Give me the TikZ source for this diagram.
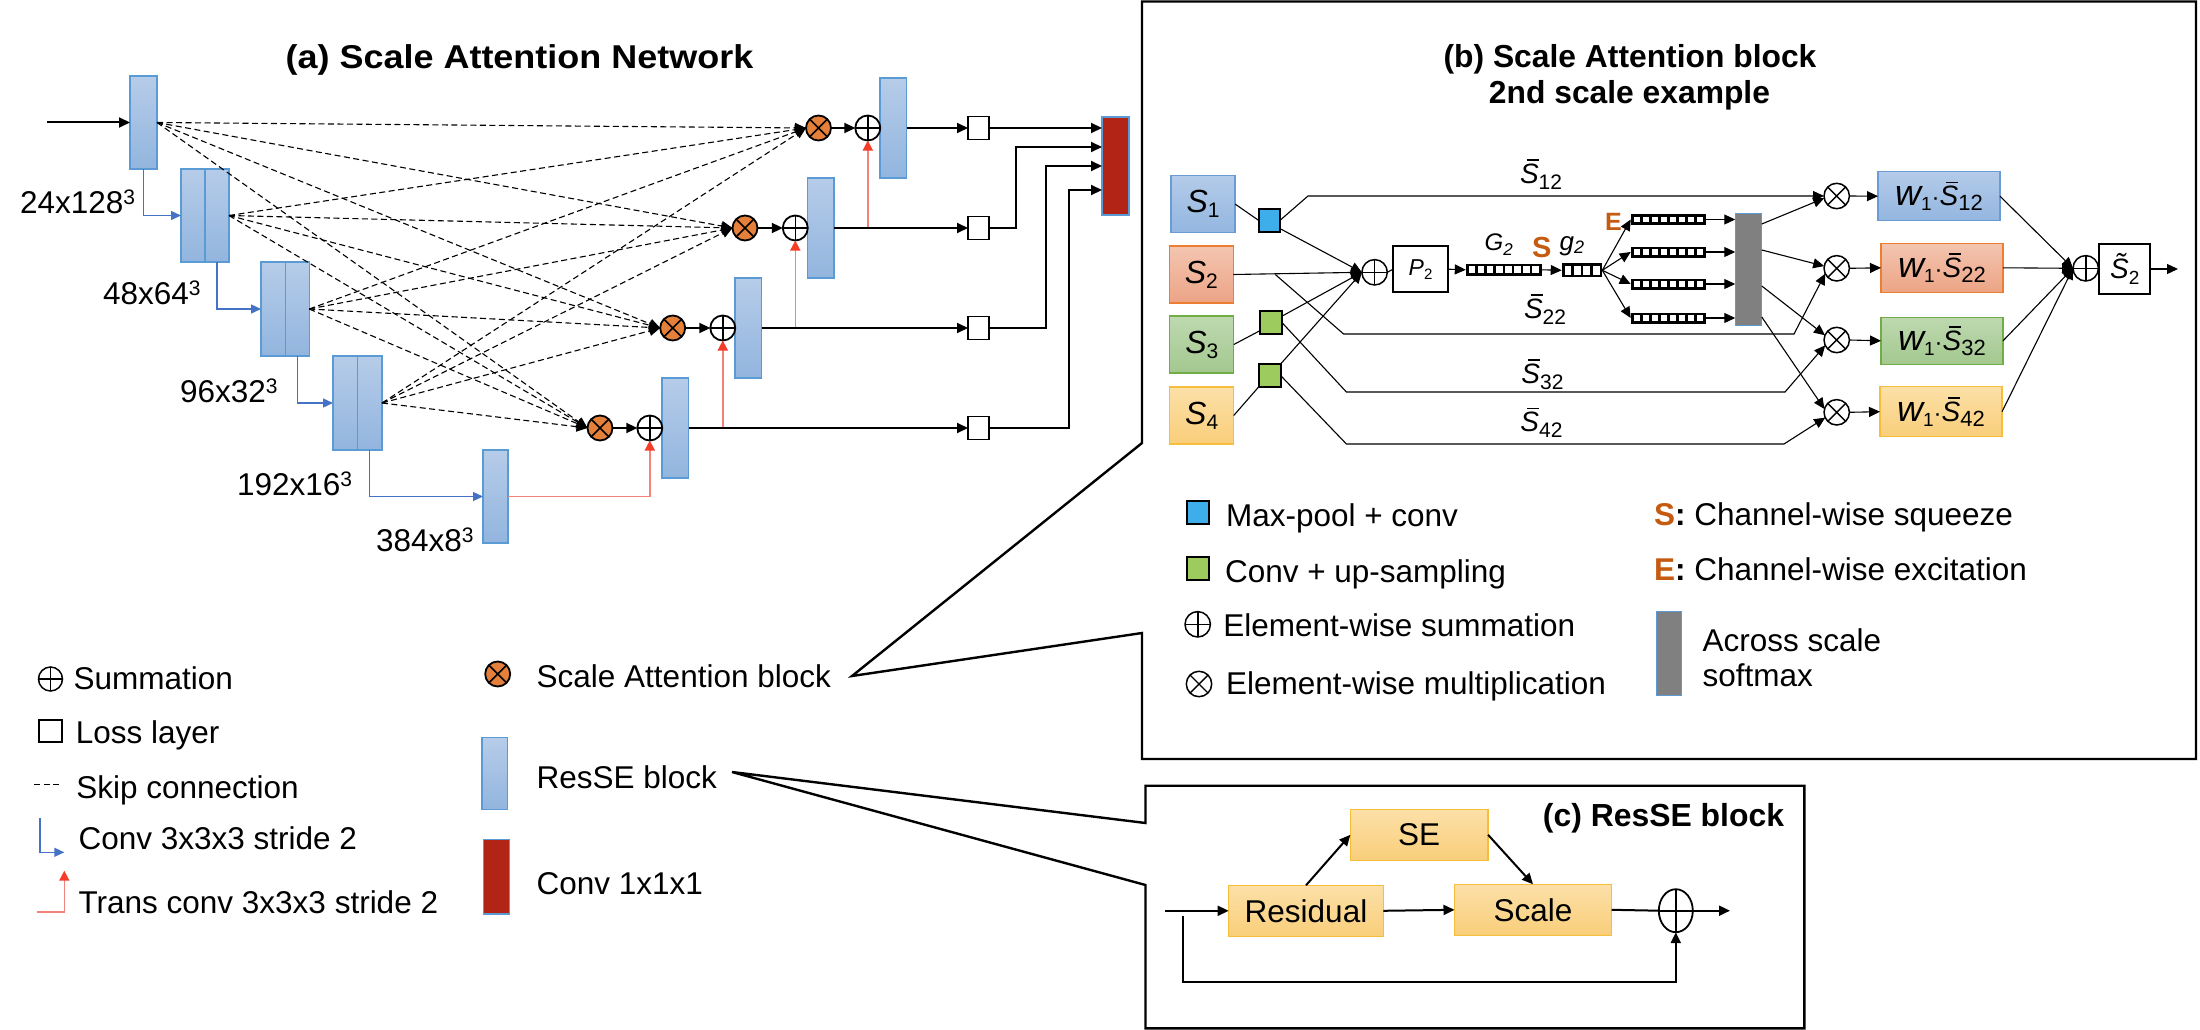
\documentclass[tikz,border=0pt]{standalone}
\usepackage{fontspec}
\setmainfont{Liberation Sans}
\usetikzlibrary{arrows.meta,calc,shapes.geometric}
\definecolor{bxtop}{RGB}{182,204,233}
\definecolor{bxbot}{RGB}{146,181,222}
\definecolor{bxline}{RGB}{91,155,213}
\definecolor{attor}{RGB}{229,128,58}
\definecolor{convred}{RGB}{178,36,22}
\definecolor{convblue}{RGB}{68,114,196}
\definecolor{transred}{RGB}{243,130,120}
\definecolor{tipred}{RGB}{245,60,40}
\definecolor{sqblue}{RGB}{61,174,233}
\definecolor{sqgreen}{RGB}{157,203,94}
\definecolor{sorange}{RGB}{197,90,17}
\definecolor{smgray}{RGB}{128,128,128}
\definecolor{s1top}{RGB}{180,203,233}\definecolor{s1bot}{RGB}{147,182,224}\definecolor{s1line}{RGB}{106,155,211}
\definecolor{s2top}{RGB}{243,197,176}\definecolor{s2bot}{RGB}{236,164,133}\definecolor{s2line}{RGB}{237,125,49}
\definecolor{s3top}{RGB}{190,217,176}\definecolor{s3bot}{RGB}{163,200,143}\definecolor{s3line}{RGB}{112,173,71}
\definecolor{s4top}{RGB}{252,224,168}\definecolor{s4bot}{RGB}{249,206,122}\definecolor{s4line}{RGB}{247,190,60}

\newcommand\cub{\raisebox{9pt}{\fontsize{21}{21}\selectfont 3}}
\newcommand\Sb{\makebox[0pt][l]{\kern0.24em\raisebox{0.8em}{\rule{0.42em}{0.06em}}}\textit{S}}
\newcommand\St{\makebox[0pt][l]{\kern0.2em\raisebox{0.2em}{\textit{\char"02DC}}}\textit{S}}
\newcommand\Si[1]{{\fontsize{32}{32}\selectfont\itshape S}\raisebox{-5pt}{\fontsize{21}{21}\selectfont #1}}
\newcommand\wS[1]{{\fontsize{36}{36}\selectfont\itshape w}\raisebox{-5pt}{\fontsize{19}{19}\selectfont 1}{\fontsize{24}{24}\selectfont ·}{\fontsize{28}{28}\selectfont\Sb}\raisebox{-5pt}{\fontsize{22}{22}\selectfont #1}}
\newcommand\Sbl[1]{{\fontsize{28}{28}\selectfont\Sb}\raisebox{-6pt}{\fontsize{21}{21}\selectfont #1}}
\newcommand\cellbar[6]{%
  \node[fill=black, minimum width=#4pt, minimum height=#5pt] (#1) at (#2,#3) {};
  \pgfmathsetmacro\cbw{(#4-3)/#6}
  \foreach \k in {1,...,#6}{
    \fill[white] ($(#1.north west)+({1.5+(\k-1)*\cbw+1.3},2.6)$) rectangle ++({\cbw-2.6},{#5-5.2});
  }
}

\tikzset{
  resse/.style={draw=bxline, line width=1.3pt, top color=bxtop, bottom color=bxbot, minimum width=26.5pt, minimum height=93pt},
  cvbox/.style={draw=bxline, line width=1.2pt, fill=convred},
  attn/.style={circle, draw, line width=1.8pt, fill=attor, minimum size=25pt,
    path picture={\draw[line width=1.6pt] (path picture bounding box.north west) -- (path picture bounding box.south east) (path picture bounding box.north east) -- (path picture bounding box.south west);}},
  oplusa/.style={circle, draw, line width=1.8pt, fill=white, minimum size=25pt,
    path picture={\draw[line width=1.6pt] (path picture bounding box.north) -- (path picture bounding box.south) (path picture bounding box.west) -- (path picture bounding box.east);}},
  oplusb/.style={oplusa, line width=1.5pt, minimum size=25.4pt},
  otimesb/.style={circle, draw, line width=1.5pt, fill=white, minimum size=25.4pt,
    path picture={\draw[line width=1.4pt] (path picture bounding box.north west) -- (path picture bounding box.south east) (path picture bounding box.north east) -- (path picture bounding box.south west);}},
  oplusc/.style={ellipse, draw, line width=1.8pt, fill=white, minimum width=34pt, minimum height=43pt,
    path picture={\draw[line width=1.6pt] (path picture bounding box.north) -- (path picture bounding box.south) (path picture bounding box.west) -- (path picture bounding box.east);}},
  lossq/.style={draw, line width=1.8pt, fill=white, minimum width=21pt, minimum height=23pt},
  sqb/.style={draw, line width=2pt, fill=sqblue, minimum width=21pt, minimum height=23pt},
  sqg/.style={draw, line width=2pt, fill=sqgreen, minimum width=22pt, minimum height=23pt},
  smx/.style={draw=bxline, line width=1pt, fill=smgray},
  sbox/.style={line width=1.3pt, minimum width=64pt, minimum height=57pt},
  wbox/.style={line width=1.3pt, minimum width=122pt, minimum height=49pt},
  obox/.style={draw=s4line, line width=1.3pt, top color=s4top, bottom color=s4bot, minimum width=137.7pt, minimum height=51pt},
  lab/.style={anchor=west, text height=22.5pt, text depth=0pt},
  blk/.style={line width=2pt, ->},
  skipd/.style={line width=1.1pt, dash pattern=on 6pt off 3.5pt, ->},
  convb/.style={draw=convblue, line width=1.4pt, -{Triangle[length=10pt,width=9pt,color=convblue]}},
  transr/.style={draw=transred, line width=1.6pt, -{Triangle[length=10pt,width=10pt,color=tipred]}},
  tl/.style={line width=1.1pt},
  ta/.style={line width=1.1pt, ->},
  frame/.style={line width=2.4pt, line join=miter},
}

\begin{document}
\begin{tikzpicture}[x=1pt,y=-1pt, >={Triangle[length=11pt,width=10pt]},
  every node/.style={inner sep=0pt, outer sep=0pt, font=\fontsize{31.5}{36}\selectfont}]
\fill[white] (0,0) rectangle (2200,1030);
\useasboundingbox (0,0) rectangle (2200,1030);

% ---------------- (a) Scale Attention Network ----------------
\node[font=\fontsize{33}{33}\selectfont\bfseries, text height=23.6pt, text depth=0pt] (ta) at (519.5,56.3) {\scalebox{1.09}[1]{(a) Scale Attention Network}};

\node[resse, minimum width=27pt] (e1) at (143.5,122.5) {};
\node[resse, minimum width=24pt] (e2a) at (193,215.5) {};
\node[resse, minimum width=24pt] (e2) at (217,215.5) {};
\node[resse, minimum width=24.5pt, minimum height=94pt] (e3a) at (273.25,309) {};
\node[resse, minimum width=24pt, minimum height=94pt] (e3) at (297.25,309) {};
\node[resse, minimum width=24.5pt, minimum height=94pt] (e4a) at (345.25,403) {};
\node[resse, minimum width=24.5pt, minimum height=94pt] (e4) at (369.75,403) {};
\node[resse, minimum width=25pt] (e5) at (495.5,496.5) {};

\node[resse, minimum height=100pt] (d1) at (893.3,128) {};
\node[resse, minimum height=100pt] (d2) at (820.8,228) {};
\node[resse, minimum height=100pt] (d3) at (748.3,328) {};
\node[resse, minimum height=100pt] (d4) at (675.3,428) {};

\node[oplusa] (o1) at (867.8,128) {};
\node[oplusa] (o2) at (795.3,228) {};
\node[oplusa] (o3) at (722.8,328) {};
\node[oplusa] (o4) at (649.8,428) {};

\node[attn] (a1) at (818.5,128) {};
\node[attn] (a2) at (745,228) {};
\node[attn] (a3) at (672.7,328) {};
\node[attn] (a4) at (600,428) {};

\node[lossq] (L1) at (978.5,128) {};
\node[lossq] (L2) at (978.5,228) {};
\node[lossq] (L3) at (978.5,328) {};
\node[lossq] (L4) at (978.5,428) {};

\node[cvbox, minimum width=27pt, minimum height=98pt] (cv) at (1115.5,166) {};

\node[lab] (t1) at (20,202) {24x128\cub};
\node[lab] (t2) at (103,293.7) {48x64\cub};
\node[lab] (t3) at (180,391) {96x32\cub};
\node[lab] (t4) at (237,484.7) {192x16\cub};
\node[lab] (t5) at (376,540.3) {384x8\cub};

\coordinate (ain) at (47,122.5);
\draw[blk] (ain) -- (e1.west);

\foreach \e in {e1,e2,e3,e4}
  \foreach \a in {a1,a2,a3,a4}
    \draw[skipd] (\e.east) -- (\a.west);

\draw[convb] (e1.south) |- (e2a.west);
\draw[convb] (e2.south) |- (e3a.west);
\draw[convb] (e3.south) |- (e4a.west);
\draw[convb] (e4.south) |- (e5.west);

\foreach \i in {1,...,4} \draw[blk] (a\i.east) -- (o\i.west);

\draw[transr] (e5.east) -| (o4.south);
\draw[transr] (d4.east) -| (o3.south);
\draw[transr] (d3.east) -| (o2.south);
\draw[transr] (d2.east) -| (o1.south);

\foreach \i in {1,...,4} \draw[blk] (d\i.east) -- (L\i.west);

\draw[blk] (L1.east) -- ($(cv.west)+(0,-38)$);
\draw[blk] (L2.east) -- ++(26.5,0) |- ($(cv.west)+(0,-19)$);
\draw[blk] (L3.east) -- ++(56.5,0) |- (cv.west);
\draw[blk] (L4.east) -- ++(80,0) |- ($(cv.west)+(0,24)$);

% legend (a)
\node[oplusa, minimum size=24pt, line width=1.5pt] (lgsum) at (50.5,679) {};
\node[lab] (lgsumt) at (73.5,678.5) {Summation};
\node[lossq, minimum width=23pt, minimum height=22pt, line width=1.6pt] (lgloss) at (50.5,731) {};
\node[lab] (lglosst) at (75.8,732) {Loss layer};
\draw[line width=1.1pt, dash pattern=on 6pt off 3.5pt] (34.4,784.3) -- (59,784.3);
\node[lab] (lgskipt) at (76.4,787) {Skip connection};
\draw[convb] (40,818) |- (64.3,852.3);
\node[lab] (lgconvt) at (78.6,838.7) {Conv 3x3x3 stride 2};
\draw[transr] (37.3,911.7) -| (64.3,870.7);
\node[lab] (lgtranst) at (78.6,902) {Trans conv 3x3x3 stride 2};
\node[attn] (lgattn) at (497.7,674) {};
\node[lab] (lgattnt) at (536.7,676) {Scale Attention block};
\node[resse, minimum width=25.5pt, minimum height=72pt] (lgres) at (494.8,773.3) {};
\node[lab] (lgrest) at (536.7,777.5) {ResSE block};
\node[cvbox, minimum width=26.4pt, minimum height=74.7pt] (lgcv) at (496.6,876.7) {};
\node[lab] (lgcvt) at (536.7,883) {Conv 1x1x1};

% ---------------- frames with callouts ----------------
\draw[frame] (1142,443) -- (1142,1.5) -- (2196,1.5) -- (2196,759) -- (1142,759) -- (1142,633) -- (852,676) -- cycle;
\draw[frame] (1145.5,823) -- (1145.5,785.7) -- (1804.4,785.7) -- (1804.4,1028.3) -- (1145.5,1028.3) -- (1145.5,885) -- (732,772) -- cycle;

% ---------------- (b) Scale Attention block ----------------
\node[font=\fontsize{31.8}{32}\selectfont\bfseries, text height=22.8pt, text depth=0pt] (tb1) at (1630,55.8) {(b) Scale Attention block};
\node[font=\fontsize{31.8}{32}\selectfont\bfseries, text height=22.8pt, text depth=0pt] (tb2) at (1629.5,92.5) {2nd scale example};

\node[sbox, draw=s1line, top color=s1top, bottom color=s1bot] (S1) at (1203,204) {\Si{1}};
\node[sbox, draw=s2line, top color=s2top, bottom color=s2bot] (S2) at (1201.3,274.5) {\Si{2}};
\node[sbox, draw=s3line, top color=s3top, bottom color=s3bot] (S3) at (1201.8,344.5) {\Si{3}};
\node[sbox, draw=s4line, top color=s4top, bottom color=s4bot] (S4) at (1201.7,415.5) {\Si{4}};

\node[sqb] (bsq) at (1269.3,220.5) {};
\node[sqg] (gsq3) at (1270.7,322.3) {};
\node[sqg] (gsq4) at (1269.6,375.5) {};

\node[oplusb] (opb) at (1374.6,272.3) {};
\node[draw, line width=1.8pt, minimum width=55pt, minimum height=46pt] (P2) at (1420.5,269.2)
  {{\fontsize{23}{23}\selectfont\itshape P}\raisebox{-4pt}{\fontsize{15}{15}\selectfont 2}};

\cellbar{G2}{1503.8}{269.8}{76}{12}{8}
\cellbar{g2}{1582}{270.3}{40.6}{14}{4}
\cellbar{E1}{1668.2}{219.5}{75}{11}{8}
\cellbar{E2}{1668.2}{252}{75}{11}{8}
\cellbar{E3}{1668.2}{284}{75}{11}{8}
\cellbar{E4}{1668.2}{318}{75}{11}{8}

\node[anchor=base west, font=\fontsize{24}{24}\selectfont\itshape] (G2t) at (1484.6,250) {G\raisebox{-5pt}{\fontsize{17}{17}\selectfont 2}};
\node[anchor=base west, font=\fontsize{29}{29}\selectfont\bfseries, text=sorange] (Sq) at (1532,257.3) {S};
\node[anchor=base west, font=\fontsize{26}{26}\selectfont\itshape] (g2t) at (1559.6,250) {g\raisebox{-3pt}{\fontsize{18}{18}\selectfont 2}};
\node[anchor=base west, font=\fontsize{25}{25}\selectfont\bfseries, text=sorange] (Ex) at (1605,230) {E};

\node[smx, minimum width=26.5pt, minimum height=112pt] (sm) at (1748.5,269) {};

\node[otimesb] (ot1) at (1836.7,196) {};
\node[otimesb] (ot2) at (1836.7,268.3) {};
\node[otimesb] (ot3) at (1836.7,340) {};
\node[otimesb] (ot4) at (1836.7,412.3) {};

\node[wbox, draw=s1line, top color=s1top, bottom color=s1bot] (w1) at (1939,196.2) {\wS{12}};
\node[wbox, draw=s2line, top color=s2top, bottom color=s2bot] (w2) at (1942,267.8) {\wS{22}};
\node[wbox, draw=s3line, top color=s3top, bottom color=s3bot, minimum height=47pt] (w3) at (1942,340.8) {\wS{32}};
\node[wbox, draw=s4line, top color=s4top, bottom color=s4bot, minimum height=50pt] (w4) at (1941,411.7) {\wS{42}};

\node[oplusb] (opc) at (2085.7,268.3) {};
\node[draw, line width=1.8pt, minimum width=50.7pt, minimum height=50pt] (St2) at (2124.7,269)
  {{\fontsize{28}{28}\selectfont\St}\raisebox{-6pt}{\fontsize{19}{19}\selectfont 2}};
\coordinate (bout) at (2178,269);

\node[anchor=base west] (l12) at (1520,183.3) {\Sbl{12}};
\node[anchor=base west] (l22) at (1524,318.3) {\Sbl{22}};
\node[anchor=base west] (l32) at (1521.4,383.3) {\Sbl{32}};
\node[anchor=base west] (l42) at (1520.4,431.7) {\Sbl{42}};

% connectors (b)
\draw[tl] (S1.east) -- (bsq.west);
\draw[ta] (bsq.east) -- (1308,196) -- (ot1.west);
\draw[ta] ($(bsq.east)+(0,8)$) -- (opb.west);
\draw[ta] (S2.east) -- (opb.west);
\draw[ta] ($(S2.east)+(42,0)$) -- (1343.6,334) -- (1794,334) -- (ot2.205);
\draw[tl] (S3.east) -- ($(gsq3.south west)+(0,-3)$);
\draw[ta] ($(gsq3.east)+(0,-6)$) -- (opb.west);
\draw[ta] (gsq3.east) -- (1346.4,392) -- (1785,392) -- (ot3.205);
\draw[tl] (S4.east) -- (gsq4.south west);
\draw[ta] (gsq4.north east) -- (opb.west);
\draw[ta] (gsq4.east) -- (1346.4,444) -- (1784,444) -- (ot4.205);

\draw[tl] (opb.east) -- (P2.west);
\draw[ta] (P2.east) -- (G2.west);
\draw[ta] (G2.east) -- (g2.west);
\foreach \i in {1,...,4} \draw[ta] (g2.east) -- (E\i.west);
\foreach \i in {1,...,4} \draw[ta] (E\i.east) -- (E\i.east -| sm.west);

\draw[ta] ($(sm.east)+(0,-45)$) -- (ot1.190);
\draw[ta] ($(sm.east)+(0,-19)$) -- (ot2.170);
\draw[ta] ($(sm.east)+(0,17)$) -- (ot3.158);
\draw[ta] ($(sm.east)+(0,48)$) -- (ot4.165);

\foreach \i in {1,...,4} {
  \draw[ta] (ot\i.east) -- (w\i.west);
  \draw[ta] (w\i.east) -- (opc.west);
}
\draw[tl] (opc.east) -- (St2.west);
\draw[ta] (St2.east) -- (bout);

% legend (b)
\node[sqb, minimum width=22pt, minimum height=23.6pt] (lgb1) at (1198.3,512.5) {};
\node[lab] (lgb1t) at (1226,515.3) {Max-pool + conv};
\node[sqg, minimum width=22pt, minimum height=23.3pt] (lgb2) at (1197.7,568.3) {};
\node[lab] (lgb2t) at (1225,571.7) {Conv + up-sampling};
\node[oplusb] (lgb3) at (1197.7,624.3) {};
\node[lab] (lgb3t) at (1223.3,625) {Element-wise summation};
\node[otimesb] (lgb4) at (1199,684) {};
\node[lab] (lgb4t) at (1226,682.8) {Element-wise multiplication};
\node[lab] (lgb5t) at (1654,514.2) {{\bfseries\color{sorange}S}\textbf{:} Channel-wise squeeze};
\node[lab] (lgb6t) at (1654,569.2) {{\bfseries\color{sorange}E}\textbf{:} Channel-wise excitation};
\node[smx, minimum width=25pt, minimum height=84pt] (lgb7) at (1668.5,653.7) {};
\node[lab] (lgb7t) at (1702.5,640.3) {Across scale};
\node[lab] (lgb8t) at (1702.5,675.3) {softmax};

% ---------------- (c) ResSE block ----------------
\node[font=\fontsize{31.9}{32}\selectfont\bfseries, text height=22.8pt, text depth=0pt] (tc) at (1663.5,814.7) {(c) ResSE block};
\node[obox] (SE) at (1419.2,834.8) {SE};
\node[obox, minimum width=154.7pt] (Res) at (1306,910.8) {Residual};
\node[obox, minimum width=157pt] (Scl) at (1533,909.8) {Scale};
\node[oplusc] (opr) at (1675.8,910.7) {};
\coordinate (cin) at (1165,910.8);
\coordinate (cout) at (1730,910.7);
\coordinate (cskip) at (1182.7,916);

\draw[blk] (cin) -- (Res.west);
\draw[blk] (Res.east) -- (Scl.west);
\draw[blk] (Res.north) -- (SE.west);
\draw[blk] (SE.east) -- (Scl.north);
\draw[line width=2pt] (Scl.east) -- (opr.west);
\draw[blk] (opr.east) -- (cout);
\draw[blk] (cskip) -- (1182.7,981.7) -| (opr.south);
\end{tikzpicture}
\end{document}
